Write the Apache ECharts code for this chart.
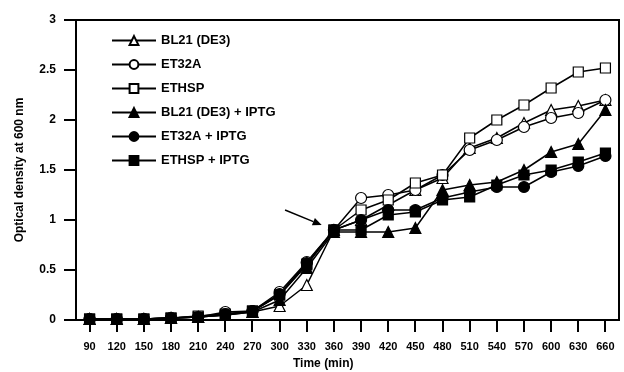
<!DOCTYPE html>
<html>
<head>
<meta charset="utf-8">
<script src="https://cdn.jsdelivr.net/npm/echarts@6/dist/echarts.min.js"></script>
<style>
  html, body { margin: 0; padding: 0; background: #fff; }
  #chart { width: 624px; height: 372px; }
</style>
</head>
<body>
<div id="chart"></div>
<script>
var times = ['90', '120', '150', '180', '210', '240', '270', '300', '330', '360', '390', '420', '450', '480', '510', '540', '570', '600', '630', '660']
var yTicks = [0, 0.5, 1, 1.5, 2, 2.5, 3]

var bl21 = [0.01, 0.01, 0.01, 0.02, 0.03, 0.05, 0.08, 0.14, 0.35, 0.9, 1.0, 1.15, 1.3, 1.42, 1.72, 1.82, 1.97, 2.1, 2.14, 2.2]
var et32a = [0.01, 0.01, 0.01, 0.02, 0.03, 0.08, 0.09, 0.28, 0.58, 0.9, 1.22, 1.25, 1.3, 1.45, 1.7, 1.8, 1.93, 2.02, 2.07, 2.2]
var ethsp = [0.01, 0.01, 0.01, 0.02, 0.04, 0.06, 0.09, 0.25, 0.56, 0.9, 1.1, 1.2, 1.37, 1.45, 1.82, 2.0, 2.15, 2.32, 2.48, 2.52]
var bl21Iptg = [0.01, 0.01, 0.01, 0.02, 0.03, 0.05, 0.08, 0.2, 0.52, 0.88, 0.88, 0.88, 0.92, 1.3, 1.35, 1.38, 1.5, 1.68, 1.76, 2.1]
var et32aIptg = [0.01, 0.01, 0.01, 0.02, 0.03, 0.06, 0.09, 0.26, 0.57, 0.9, 1.0, 1.1, 1.1, 1.22, 1.28, 1.33, 1.33, 1.48, 1.54, 1.64]
var ethspIptg = [0.01, 0.01, 0.01, 0.02, 0.03, 0.05, 0.09, 0.25, 0.55, 0.9, 0.9, 1.05, 1.08, 1.2, 1.23, 1.35, 1.45, 1.5, 1.58, 1.67]

var names = ['BL21 (DE3)', 'ET32A', 'ETHSP', 'BL21 (DE3) + IPTG', 'ET32A + IPTG', 'ETHSP + IPTG']
var datasets = [bl21, et32a, ethsp, bl21Iptg, et32aIptg, ethspIptg]
var symbols = ['triangle', 'circle', 'rect', 'triangle', 'circle', 'rect']
var filled = [false, false, false, true, true, true]

var font = 'Liberation Sans, Arial, sans-serif'
var W = 624, H = 372
var gl = 76, gr = 5, gt = 20, gb = 52
var tickLen = 12

function makeSeries() {
    var list = []
    for (let i = 0; i < names.length; i++) {
        list.push({
            name: names[i],
            type: 'line',
            data: datasets[i],
            symbol: symbols[i],
            symbolSize: symbols[i] == 'rect' ? 10 : 11,
            showAllSymbol: true,
            lineStyle: { color: '#000', width: 1.5 },
            itemStyle: {
                color: filled[i] ? '#000' : '#fff',
                borderColor: '#000',
                borderWidth: 1.2
            },
            emphasis: { disabled: true }
        })
    }
    return list
}

// pixel position from the grid geometry (category band centres / linear 0..3)
function toPx(idx, val) {
    var band = (W - gl - gr) / times.length
    return [gl + (idx + 0.5) * band, gt + (3 - val) / 3 * (H - gt - gb)]
}

// arrow pointing at the induction point (360 min)
function arrow(from, to) {
    var ang = Math.atan2(to[1] - from[1], to[0] - from[0])
    var hl = 9, hw = 4
    var back = [to[0] - hl * Math.cos(ang), to[1] - hl * Math.sin(ang)]
    return [
        {
            type: 'line',
            shape: { x1: from[0], y1: from[1], x2: back[0], y2: back[1] },
            style: { stroke: '#000', lineWidth: 1.5 }
        },
        {
            type: 'polygon',
            shape: {
                points: [
                    to,
                    [back[0] + hw * Math.sin(ang), back[1] - hw * Math.cos(ang)],
                    [back[0] - hw * Math.sin(ang), back[1] + hw * Math.cos(ang)]
                ]
            },
            style: { fill: '#000' }
        }
    ]
}

// outward tick marks drawn as thin filled rects
function tickMarks() {
    var list = []
    for (let i = 0; i < times.length; i++) {
        var x = Math.round(toPx(i, 0)[0])
        list.push({
            type: 'rect',
            z: 100,
            shape: { x: x - 1, y: H - gb, width: 2, height: tickLen },
            style: { fill: '#000' }
        })
    }
    for (let j = 0; j < yTicks.length; j++) {
        var y = Math.round(toPx(0, yTicks[j])[1])
        list.push({
            type: 'rect',
            z: 100,
            shape: { x: gl - tickLen, y: y - 1, width: tickLen, height: 2 },
            style: { fill: '#000' }
        })
    }
    return list
}

var option = {
    animation: false,
    grid: {
        left: gl,
        right: gr,
        top: gt,
        bottom: gb,
        show: true,
        borderColor: '#000',
        borderWidth: 2
    },
    title: {
        text: 'Time (min)',
        left: 293,
        top: 358,
        padding: 0,
        textStyle: { fontFamily: font, fontSize: 12, fontWeight: 'bold', color: '#000' }
    },
    legend: {
        orient: 'vertical',
        left: 106,
        top: 29,
        itemWidth: 44,
        itemHeight: 11,
        itemGap: 11,
        data: names,
        textStyle: { fontFamily: font, fontSize: 13, fontWeight: 'bold', color: '#000' }
    },
    xAxis: {
        type: 'category',
        data: times,
        axisLine: { show: true, lineStyle: { color: '#000', width: 2 } },
        axisTick: { show: false },
        axisLabel: { interval: 0, margin: 21, color: '#000', fontSize: 11, fontWeight: 'bold', fontFamily: font }
    },
    yAxis: {
        type: 'value',
        min: 0,
        max: 3,
        interval: 0.5,
        name: 'Optical density at 600 nm',
        nameLocation: 'middle',
        nameGap: 50,
        nameTextStyle: { fontFamily: font, fontSize: 12, fontWeight: 'bold', color: '#000' },
        splitLine: { show: false },
        axisLine: { show: true, lineStyle: { color: '#000', width: 2 } },
        axisTick: { show: false },
        axisLabel: { margin: 20, color: '#000', fontSize: 12, fontWeight: 'bold', fontFamily: font }
    },
    graphic: arrow(toPx(7.2, 1.1), toPx(8.55, 0.95)).concat(tickMarks()),
    series: makeSeries()
}

var myChart = echarts.init(document.getElementById('chart'))
myChart.setOption(option)
</script>
</body>
</html>
